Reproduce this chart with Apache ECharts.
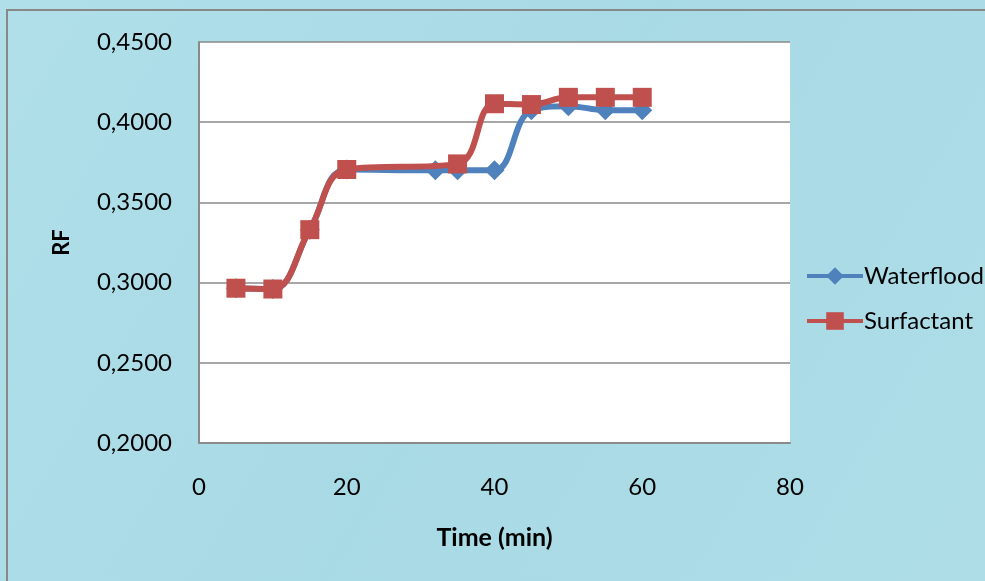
<!DOCTYPE html>
<html>
<head>
<meta charset="utf-8">
<script src="https://cdn.jsdelivr.net/npm/echarts@6/dist/echarts.min.js"></script>
<style>
  html, body { margin: 0; padding: 0; background: #ffffff; }
  #chart { width: 985px; height: 581px; }
</style>
</head>
<body>
<div id="chart"></div>
<script>
// Recovery factor over time, waterflood vs surfactant flooding
const waterTime = [5, 10, 15, 20, 32, 35, 40, 45, 50, 55, 60];
const waterRF   = [0.2965, 0.2960, 0.3330, 0.3705, 0.3700, 0.3700, 0.3700, 0.4075, 0.4100, 0.4075, 0.4075];

const surfTime  = [5, 10, 15, 20, 35, 40, 45, 50, 55, 60];
const surfRF    = [0.2965, 0.2960, 0.3330, 0.3705, 0.3740, 0.4115, 0.4110, 0.4155, 0.4155, 0.4155];

const seriesNames = ['Waterflood', 'Surfactant'];
const xTicks = { min: 0, max: 80, step: 20 };
const yTicks = { min: 0.20, max: 0.45, step: 0.05 };

const pairs = (xs, ys) => xs.map((x, i) => [x, ys[i]]);
const fmtRF = v => v.toFixed(4).replace('.', ',');

const FONT = 'Lato, "Open Sans", sans-serif';
const GRID_GRAY = '#8a8a8a';

const chart = echarts.init(document.getElementById('chart'), null, { renderer: 'canvas' });

chart.setOption({
  animation: false,
  backgroundColor: {
    type: 'linear', x: 0, y: 0, x2: 1, y2: 1,
    colorStops: [
      { offset: 0, color: '#b0dfe9' },
      { offset: 0.5, color: '#a8dae5' },
      { offset: 1, color: '#aedde7' }
    ]
  },
  graphic: [{
    type: 'rect',
    z: 100,
    silent: true,
    shape: { x: 7, y: 10, width: 990, height: 590 },
    style: { fill: 'none', stroke: '#888888', lineWidth: 2 }
  }],
  grid: {
    left: 199, top: 42, right: 195, bottom: 138,
    show: true, backgroundColor: '#ffffff', borderWidth: 0
  },
  legend: {
    orient: 'vertical',
    left: 800, top: 259,
    itemWidth: 56, itemHeight: 22, itemGap: 21,
    lineStyle: { width: 4 },
    textStyle: { fontFamily: FONT, fontSize: 24, color: '#000000', padding: [0, 0, 0, -4] },
    data: seriesNames
  },
  xAxis: {
    type: 'value',
    min: xTicks.min, max: xTicks.max, interval: xTicks.step,
    name: 'Time (min)',
    nameLocation: 'middle',
    nameGap: 82,
    nameTextStyle: { fontFamily: FONT, fontSize: 25, fontWeight: 'bold', color: '#000000', verticalAlign: 'top' },
    axisLine: { show: true, onZero: false, lineStyle: { color: GRID_GRAY, width: 2 } },
    axisTick: { show: false },
    splitLine: { show: false },
    axisLabel: { fontFamily: FONT, fontSize: 24, color: '#000000', margin: 32 }
  },
  yAxis: {
    type: 'value',
    min: yTicks.min, max: yTicks.max, interval: yTicks.step,
    name: 'RF',
    nameLocation: 'middle',
    nameRotate: 90,
    nameGap: 126,
    nameTextStyle: { fontFamily: FONT, fontSize: 22, fontWeight: 'bold', color: '#000000' },
    axisLine: { show: true, lineStyle: { color: GRID_GRAY, width: 2 } },
    axisTick: { show: false },
    splitLine: { show: true, lineStyle: { color: GRID_GRAY, width: 1.5 } },
    axisLabel: { fontFamily: FONT, fontSize: 24, color: '#000000', margin: 27, formatter: fmtRF }
  },
  series: [
    {
      name: seriesNames[0],
      type: 'line',
      data: pairs(waterTime, waterRF),
      smooth: 0.4,
      symbol: 'diamond',
      symbolSize: 20,
      color: '#4f81bd',
      lineStyle: { width: 6, color: '#4f81bd' },
      itemStyle: { color: '#4f81bd' },
      z: 2
    },
    {
      name: seriesNames[1],
      type: 'line',
      data: pairs(surfTime, surfRF),
      smooth: 0.4,
      symbol: 'rect',
      symbolSize: 19,
      color: '#c0504d',
      lineStyle: { width: 6, color: '#c0504d' },
      itemStyle: { color: '#c0504d' },
      z: 3
    }
  ]
});
</script>
</body>
</html>
